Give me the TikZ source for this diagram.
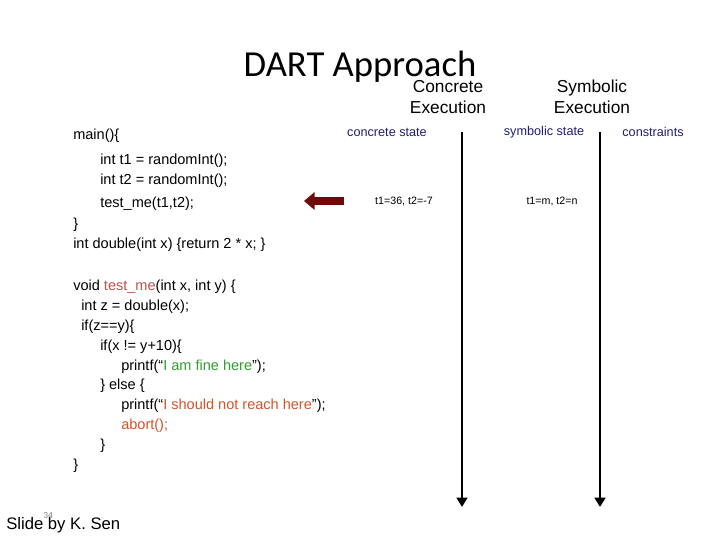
\documentclass[tikz,border=0pt]{standalone}
\usepackage{fontspec}
\setmainfont{Liberation Sans}
\newfontfamily\calib{Carlito}
\usetikzlibrary{arrows.meta}
\definecolor{navy}{HTML}{1F1F6F}
\definecolor{fnred}{HTML}{C0504D}
\definecolor{strgreen}{HTML}{2EA02E}
\definecolor{strred}{HTML}{D2522A}
\definecolor{arrred}{HTML}{6E0A0A}
\begin{document}
\begin{tikzpicture}[x=0.75pt,y=-0.75pt,
  code/.style={anchor=west,inner sep=0pt,font=\fontsize{10.9pt}{12pt}\selectfont},
  lbl/.style={inner sep=0pt,font=\fontsize{9.5pt}{11pt}\selectfont,text=navy},
  hdr/.style={inner sep=0pt,align=center,font=\fontsize{13pt}{16pt}\selectfont},
  vline/.style={line width=2pt,-{Triangle[length=7pt,width=8pt]}}]
\useasboundingbox (0,0) rectangle (720,540);
\node[inner sep=0pt,font=\calib\fontsize{27.5pt}{32pt}\selectfont] (title) at (360,67) {DART Approach};
\node[hdr] (ce) at (448,97) {Concrete\\Execution};
\node[hdr] (se) at (592,97) {Symbolic\\Execution};
\node[lbl] (cs) at (387,132) {concrete state};
\node[lbl] (ss) at (544,132) {symbolic state};
\node[lbl] (cn) at (653,132) {constraints};
\node[inner sep=0pt,font=\fontsize{8pt}{10pt}\selectfont] (cv) at (404,201) {t1=36, t2=-7};
\node[inner sep=0pt,font=\fontsize{8pt}{10pt}\selectfont] (sv) at (552,201) {t1=m, t2=n};
\coordinate (c1) at (462,132); \coordinate (c2) at (462,507);
\coordinate (s1) at (600,132); \coordinate (s2) at (600,507);
\draw[vline] (c1) -- (c2);
\draw[vline] (s1) -- (s2);
\coordinate (a1) at (344,201); \coordinate (a2) at (304,201);
\draw[line width=5.5pt,arrred,-{Triangle[length=8pt,width=13pt]}] (a1) -- (a2);
\node[code] (l1) at (73,136) {main()\{};
\node[code] (l2) at (100,161) {int t1 = randomInt();};
\node[code] (l3) at (100,181) {int t2 = randomInt();};
\node[code] (l4) at (100,204) {test\_me(t1,t2);};
\node[code] (l5) at (73,225) {\}};
\node[code] (l6) at (73,245) {int double(int x) \{return 2 * x; \}};
\node[code] (l7) at (73,287) {void \textcolor{fnred}{test\_me}(int x, int y) \{};
\node[code] (l8) at (81,307) {int z = double(x);};
\node[code] (l9) at (81,327) {if(z==y)\{};
\node[code] (l10) at (100,347) {if(x != y+10)\{};
\node[code] (l11) at (121,367) {printf(``\textcolor{strgreen}{I am fine here}'');};
\node[code] (l12) at (100,386) {\} else \{};
\node[code] (l13) at (121,406) {printf(``\textcolor{strred}{I should not reach here}'');};
\node[code] (l14) at (121,426) {\textcolor{strred}{abort();}};
\node[code] (l15) at (100,446) {\}};
\node[code] (l16) at (73,466) {\}};
\node[inner sep=0pt,anchor=west,font=\fontsize{12.5pt}{14pt}\selectfont] (sl) at (6,525) {Slide by K. Sen};
\node[inner sep=0pt,text=gray,font=\calib\fontsize{7pt}{8pt}\selectfont] (pg) at (48,515) {34};
\end{tikzpicture}
\end{document}
